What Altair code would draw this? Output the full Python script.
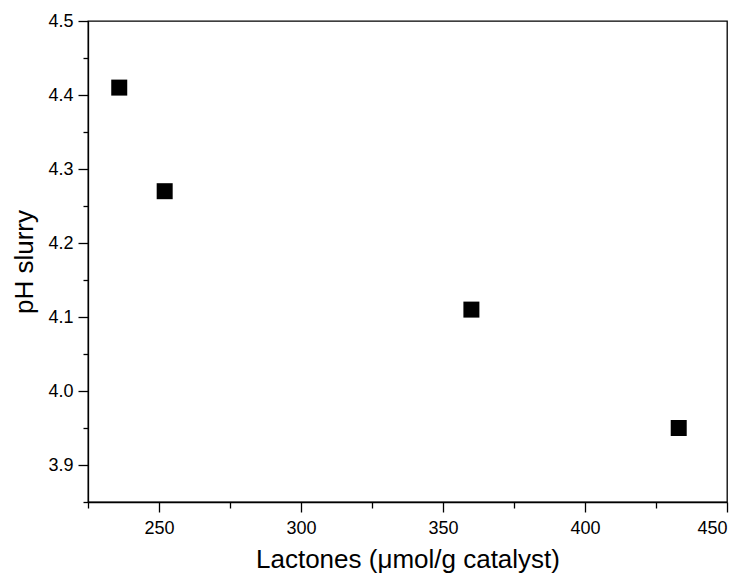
import altair as alt
import pandas as pd

lactones = [236, 252, 360, 433]
ph = [4.41, 4.27, 4.11, 3.95]

df = pd.DataFrame({"lactones": lactones, "ph": ph})

x_ticks = [225, 250, 275, 300, 325, 350, 375, 400, 425, 450]
y_ticks = [3.85, 3.9, 3.95, 4.0, 4.05, 4.1, 4.15, 4.2, 4.25, 4.3, 4.35, 4.4, 4.45, 4.5]

font = "Liberation Sans"

chart = alt.Chart(df).mark_square(size=256, color="black", opacity=1).encode(
    x=alt.X("lactones:Q",
            scale=alt.Scale(domain=[225, 450], nice=False, zero=False),
            axis=alt.Axis(values=x_ticks, title="Lactones (μmol/g catalyst)",
                          labelExpr="datum.value % 50 === 0 ? datum.label : ''",
                          tickSize={"condition": {"test": "datum.value % 50 === 0", "value": 10}, "value": 6},
                          grid=False, domainColor="black", tickColor="black",
                          labelColor="black", titleColor="black",
                          labelFont=font, titleFont=font, labelFontSize=18,
                          titleFontSize=26, titleFontWeight="normal",
                          labelPadding=7, titlePadding=9, domainWidth=1.3, tickWidth=1.3)),
    y=alt.Y("ph:Q",
            scale=alt.Scale(domain=[3.85, 4.5], nice=False, zero=False),
            axis=alt.Axis(values=y_ticks, title="pH slurry",
                          labelExpr="(round(datum.value*100) % 10 === 0) ? format(datum.value, '.1f') : ''",
                          tickSize={"condition": {"test": "round(datum.value*100) % 10 === 0", "value": 10}, "value": 5},
                          grid=False, domainColor="black", tickColor="black",
                          labelColor="black", titleColor="black",
                          labelFont=font, titleFont=font, labelFontSize=18,
                          titleFontSize=26, titleFontWeight="normal",
                          labelPadding=5, titlePadding=10, domainWidth=1.3, tickWidth=1.3)),
).properties(
    width=639, height=481,
    autosize=alt.AutoSizeParams(type="none"),
    padding={"left": 80, "top": 13, "right": 10, "bottom": 82},
).configure_view(stroke="black", strokeWidth=1.3)

chart.save("out.html", embed_options={"renderer": "svg", "actions": False})
